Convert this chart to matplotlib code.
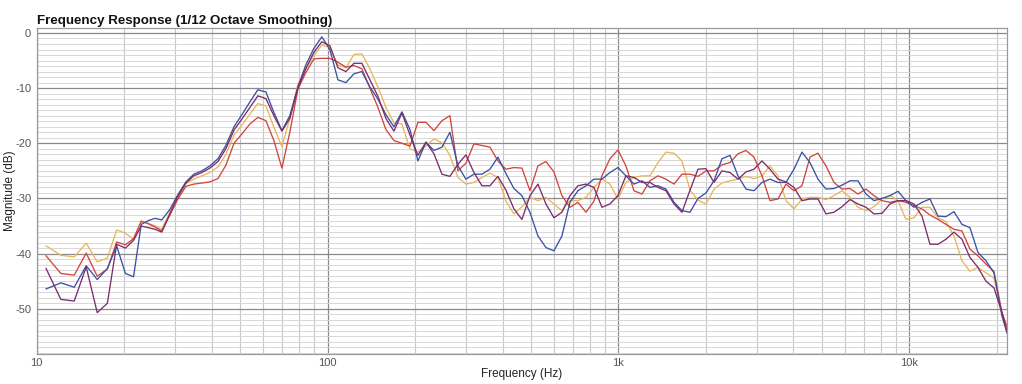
import numpy as np
import matplotlib.pyplot as plt
from matplotlib.ticker import FixedLocator, FixedFormatter, LogLocator, NullFormatter, MultipleLocator

plt.rcParams['font.family'] = ['Liberation Sans', 'DejaVu Sans']
plt.rcParams['axes.unicode_minus'] = False

# frequencies (Hz): raw FFT bins at the bottom end, then the smoothed part
freq = [10.77, 12.11, 13.46, 14.80, 16.15, 17.50, 18.84, 20.19, 21.53, 22.88, 24.22, 25.57, 26.92,
        28.7, 30.6, 32.6, 34.7, 37.0, 39.4, 42.0, 44.7, 47.7, 50.8, 54.1, 57.6, 61.4, 65.4, 69.7,
        74.2, 79.1, 84.2, 89.8, 95.6, 101.9, 108.6, 115.7, 123.3, 131.3, 139.9, 149.1, 158.8,
        169.2, 180.3, 192.1, 204.6, 218.0, 232.3, 247.5, 263.6, 280.9, 299.2, 318.8, 339.7,
        361.9, 385.5, 410.8, 437.6, 466.2, 496.7, 529.2, 563.8, 600.6, 639.9, 681.8, 726.4,
        773.9, 824.5, 878.4, 935.8, 997.0, 1062, 1132, 1206, 1285, 1369, 1458, 1554, 1655,
        1764, 1879, 2002, 2133, 2272, 2421, 2579, 2748, 2927, 3119, 3323, 3540, 3772, 4018,
        4281, 4561, 4859, 5177, 5515, 5876, 6260, 6670, 7106, 7570, 8065, 8593, 9155, 9753,
        10391, 11070, 11794, 12565, 13387, 14262, 15194, 16188, 17246, 18374, 19575, 20855, 21700]

blue = [-46.4, -45.3, -46.1, -42.2, -44.7, -42.7, -38.6, -43.6, -44.2, -34.7, -34.0, -33.6, -33.9,
        -32.0, -29.3, -27.0, -25.6, -25.0, -24.1, -22.8, -20.4, -17.0, -14.8, -12.5, -10.3, -10.7,
        -14.4, -17.7, -15.0, -9.8, -5.8, -2.8, -0.7, -3.0, -8.5, -9.0, -7.4, -7.0, -9.8, -12.0,
        -14.8, -17.0, -14.3, -17.5, -23.2, -19.8, -21.3, -20.7, -18.0, -24.1, -26.5, -25.6, -25.6,
        -24.7, -22.5, -25.5, -28.2, -29.5, -32.5, -36.8, -38.9, -39.5, -36.8, -30.7, -28.6, -27.7,
        -26.5, -26.5, -25.3, -24.4, -25.9, -27.4, -26.8, -28.0, -27.7, -28.3, -30.7, -32.2, -32.5,
        -30.0, -29.0, -26.8, -22.8, -22.2, -25.9, -28.3, -28.6, -27.1, -26.5, -27.1, -27.1, -24.7,
        -21.6, -23.5, -26.5, -28.3, -28.2, -27.6, -26.8, -26.8, -29.2, -30.4, -30.0, -29.5, -28.7,
        -30.4, -31.6, -30.7, -30.1, -33.2, -33.3, -32.4, -34.7, -35.3, -39.8, -41.3, -43.5, -51.3,
        -54.4]

purple = [-42.7, -48.3, -48.6, -42.4, -50.7, -49.0, -38.3, -39.0, -37.6, -35.0, -35.3, -35.6, -36.1,
          -32.8, -29.6, -27.2, -25.9, -25.3, -24.5, -23.3, -21.0, -17.6, -15.6, -13.5, -11.4, -11.9,
          -15.0, -17.8, -15.5, -10.0, -6.5, -3.5, -1.6, -2.3, -6.3, -7.0, -5.5, -5.5, -8.5, -11.5,
          -15.5, -17.8, -14.5, -18.5, -22.2, -19.8, -21.9, -25.6, -26.0, -23.8, -22.1, -25.3, -27.7,
          -27.7, -26.0, -28.5, -31.9, -33.8, -29.5, -27.4, -31.0, -33.5, -32.5, -29.5, -27.7, -27.4,
          -28.0, -31.6, -31.0, -29.5, -25.9, -26.2, -27.1, -27.1, -28.0, -28.6, -31.0, -32.5, -28.5,
          -24.7, -24.6, -27.1, -25.0, -25.3, -26.5, -25.2, -24.7, -23.2, -24.7, -26.5, -27.0, -28.0,
          -30.4, -30.1, -30.1, -32.8, -32.5, -31.5, -30.2, -31.0, -31.6, -32.8, -32.7, -31.0, -30.4,
          -30.4, -31.0, -33.2, -38.3, -38.3, -37.4, -36.1, -37.4, -40.7, -42.5, -45.0, -46.2, -50.7,
          -54.1]

yellow = [-38.6, -40.3, -40.6, -38.1, -41.5, -40.8, -35.7, -36.3, -37.4, -34.2, -34.5, -35.0, -35.6,
          -32.5, -29.7, -27.3, -26.5, -25.9, -25.3, -24.3, -22.0, -18.5, -16.7, -14.7, -12.8, -13.2,
          -17.1, -20.6, -15.5, -9.3, -6.5, -4.1, -2.2, -2.6, -5.8, -6.3, -3.9, -3.8, -6.5, -9.8,
          -13.5, -16.3, -16.5, -21.0, -21.6, -20.5, -19.2, -19.9, -22.2, -26.2, -27.4, -27.1, -26.2,
          -25.4, -26.2, -30.5, -32.8, -31.5, -29.8, -30.4, -29.8, -31.0, -32.2, -30.4, -30.4, -29.8,
          -28.0, -26.5, -27.4, -30.1, -27.1, -26.2, -25.9, -25.9, -23.5, -21.6, -21.8, -23.2, -28.5,
          -30.3, -31.0, -28.3, -27.2, -26.8, -26.5, -26.0, -26.4, -25.9, -24.1, -25.9, -30.4, -31.9,
          -30.1, -29.8, -29.8, -30.2, -29.5, -28.6, -29.8, -31.6, -32.2, -31.5, -30.1, -29.4, -30.4,
          -33.8, -33.5, -31.6, -31.6, -33.5, -34.2, -36.8, -41.3, -43.2, -42.5, -43.5, -44.4, -50.7,
          -53.8]

red = [-40.4, -43.6, -43.9, -39.9, -44.1, -42.8, -37.9, -38.4, -37.3, -34.1, -34.6, -35.2, -35.9,
       -33.0, -30.1, -27.8, -27.4, -27.2, -27.0, -26.4, -24.0, -20.0, -18.3, -16.5, -15.3, -15.9,
       -19.5, -24.5, -18.0, -10.2, -7.2, -4.7, -4.6, -4.6, -5.3, -6.2, -5.9, -6.5, -10.0, -13.5,
       -17.5, -19.5, -20.0, -20.5, -16.2, -16.2, -17.7, -15.9, -15.0, -25.0, -23.6, -20.1, -20.4,
       -20.7, -23.2, -24.7, -24.4, -24.5, -28.6, -24.1, -23.3, -25.2, -29.5, -31.6, -30.7, -32.5,
       -30.5, -25.9, -22.8, -21.2, -24.1, -28.6, -29.2, -26.8, -25.9, -26.5, -27.4, -25.6, -25.6,
       -26.0, -25.0, -25.0, -23.9, -23.5, -21.9, -21.3, -22.5, -25.9, -30.4, -30.1, -27.4, -28.6,
       -27.7, -22.5, -21.8, -24.1, -27.1, -28.3, -28.2, -29.2, -28.3, -29.5, -30.4, -30.7, -30.4,
       -30.7, -31.3, -31.9, -33.0, -33.8, -34.7, -35.6, -35.9, -39.2, -40.4, -41.9, -43.2, -50.7,
       -53.2]

series = [(yellow, '#e9b65c'), (red, '#d2453d'), (blue, '#3b51a3'), (purple, '#7c2c6c')]

fig = plt.figure(figsize=(10.22, 3.84), dpi=100)
ax = fig.add_axes([0.0359, 0.0781, 0.9494, 0.8490])

for vals, col in series:
    ax.plot(freq, vals, color=col, lw=0.95)

ax.set_xscale('log')
ax.set_xlim(10, 21700)
ax.set_ylim(-58.2, 0.9)

ax.xaxis.set_major_locator(FixedLocator([10, 100, 1000, 10000]))
ax.xaxis.set_major_formatter(FixedFormatter(['10', '100', '1k', '10k']))
ax.xaxis.set_minor_locator(LogLocator(base=10, subs=np.arange(2, 10)))
ax.xaxis.set_minor_formatter(NullFormatter())
ax.yaxis.set_major_locator(FixedLocator([0, -10, -20, -30, -40, -50]))
ax.yaxis.set_minor_locator(MultipleLocator(1))

ax.grid(which='major', color='#8a8a8a', lw=0.9)
ax.grid(which='minor', axis='x', color='#c4c8d0', lw=0.8)
ax.grid(which='minor', axis='y', color='#d8d8d8', lw=0.7)
ax.set_axisbelow(True)

ax.tick_params(which='both', length=0, labelsize=8, labelcolor='#555555')
ax.tick_params(axis='x', pad=3)
ax.tick_params(axis='y', pad=4)
for s in ax.spines.values():
    s.set_color('#9a9a9a')
    s.set_linewidth(0.9)

ax.set_xlabel('Frequency (Hz)', fontsize=8.5, color='#222222')
ax.xaxis.set_label_coords(0.5, -0.043)
ax.set_ylabel('Magnitude (dB)', fontsize=8.5, color='#222222')
ax.yaxis.set_label_coords(-0.0213, 0.5)
fig.text(0.0362, 0.945, 'Frequency Response (1/12 Octave Smoothing)', fontsize=9.6,
         fontweight='bold', ha='left', va='center', color='#111111')

fig.savefig('out.png', dpi=100)
